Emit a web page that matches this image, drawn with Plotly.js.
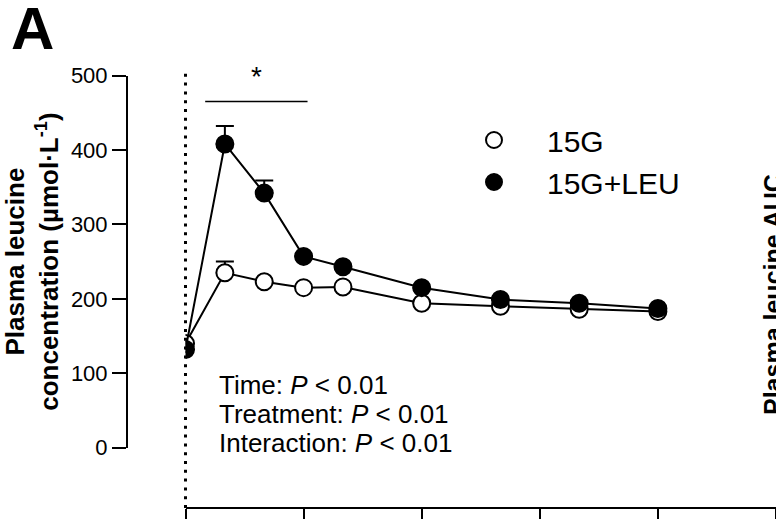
<!DOCTYPE html>
<html>
<head>
<meta charset="utf-8">
<script src="https://cdn.plot.ly/plotly-3.0.1.min.js"></script>
<style>html,body{margin:0;padding:0;background:#fff;overflow:hidden}</style>
</head>
<body>
<div id="chart" style="width:776px;height:519px"></div>
<script>
// Time after ingestion (min)
const timeMin = [0, 20, 40, 60, 80, 120, 160, 200, 240];
// Plasma leucine concentration (µmol·L-1)
const leu15G    = [140, 235, 223, 215, 216, 194, 190, 186, 183];
const leu15GLEU = [132, 408, 342, 257, 243, 215, 199, 194, 187];
// upward SEM bars (only the visible ones)
const sem15G    = [null, 15, null, null, null, null, null, null, null];
const sem15GLEU = [null, 24, 17, null, null, null, null, null, null];
const seriesNames = ['15G', '15G+LEU'];
const yTicks = [0, 100, 200, 300, 400, 500];
const xTicks = [0, 60, 120, 180, 240, 300];
const statLines = ['Time: <i>P</i> < 0.01', 'Treatment: <i>P</i> < 0.01', 'Interaction: <i>P</i> < 0.01'];
const sigSpan = [10, 62];
const sigLevel = 465;

const FONT = 'Liberation Sans, Arial, sans-serif';
const H = 519, T = 73, B = 11, L = 127, W = 776;
const ph = H - T - B, pw = W - L;
const py = p => (H - B - p) / ph;
const px = p => (p - L) / pw;

const lineStyle = {color: '#000', width: 2};
const traces = [
  {x: timeMin, y: leu15G, mode: 'lines', line: lineStyle, showlegend: false, hoverinfo: 'skip'},
  {x: timeMin, y: leu15G, mode: 'markers', name: seriesNames[0],
   marker: {symbol: 'circle', size: 17, color: '#fff', line: {color: '#000', width: 2}},
   error_y: {type: 'data', symmetric: false, array: sem15G, arrayminus: sem15G.map(v => v === null ? null : 0), color: '#000', thickness: 2, width: 9}},
  {x: timeMin, y: leu15GLEU, mode: 'lines', line: lineStyle, showlegend: false, hoverinfo: 'skip'},
  {x: timeMin, y: leu15GLEU, mode: 'markers', name: seriesNames[1],
   marker: {symbol: 'circle', size: 17, color: '#000', line: {color: '#000', width: 2}},
   error_y: {type: 'data', symmetric: false, array: sem15GLEU, arrayminus: sem15GLEU.map(v => v === null ? null : 0), color: '#000', thickness: 2, width: 9}}
];

const annotations = [
  {text: '<b>A</b>', xref: 'paper', yref: 'paper', x: px(32), y: py(29), xanchor: 'center', yanchor: 'middle', showarrow: false, font: {family: FONT, size: 60, color: '#000'}},
  {text: '*', xref: 'x', yref: 'paper', x: (sigSpan[0] + sigSpan[1]) / 2, y: py(76), xanchor: 'center', yanchor: 'middle', showarrow: false, font: {family: FONT, size: 28, color: '#000'}},
  {text: '<b>Plasma leucine AUC</b>', xref: 'paper', yref: 'paper', x: px(773), y: py(295), xanchor: 'center', yanchor: 'middle', textangle: -90, showarrow: false, font: {family: FONT, size: 25, color: '#000'}}
];
statLines.forEach((s, i) => annotations.push({
  text: s, xref: 'paper', yref: 'paper', x: px(217), y: py(385 + i * 29), xanchor: 'left', yanchor: 'middle',
  showarrow: false, font: {family: FONT, size: 26, color: '#000'}
}));

const layout = {
  width: W, height: H,
  margin: {l: L, r: 0, t: T, b: B, autoexpand: false},
  paper_bgcolor: '#fff', plot_bgcolor: '#fff',
  font: {family: FONT, color: '#000'},
  xaxis: {
    domain: [px(185.5), 1], range: [0, 300], tickvals: xTicks, showticklabels: false,
    showline: true, linecolor: '#000', linewidth: 2, ticks: 'outside', ticklen: 16, tickwidth: 2, tickcolor: '#000',
    showgrid: false, zeroline: false, anchor: 'free', position: 0, automargin: false
  },
  yaxis: {
    domain: [py(447.7), py(75.5)], range: [0, 500], tickvals: yTicks,
    showline: true, linecolor: '#000', linewidth: 2, ticks: 'outside', ticklen: 14, tickwidth: 2, tickcolor: '#000',
    tickfont: {family: FONT, size: 22, color: '#000'},
    showgrid: false, zeroline: false, anchor: 'free', position: 0, automargin: false,
    title: {text: '<b>Plasma leucine<br>concentration (µmol·L<sup>-1</sup>)</b>', font: {family: FONT, size: 26, color: '#000'}, standoff: 19}
  },
  showlegend: true,
  legend: {
    x: px(441), y: py(114), xanchor: 'left', yanchor: 'top', bgcolor: 'rgba(0,0,0,0)',
    font: {family: FONT, size: 30, color: '#000'}, itemwidth: 96, tracegroupgap: 0
  },
  shapes: [
    {type: 'line', xref: 'x domain', yref: 'paper', x0: 0, x1: 0, y0: 0, y1: 1, line: {color: '#000', width: 3, dash: '3px,5.8px'}},
    {type: 'line', xref: 'x', yref: 'y', x0: sigSpan[0], x1: sigSpan[1], y0: sigLevel, y1: sigLevel, line: {color: '#000', width: 1.5}}
  ],
  annotations: annotations
};

Plotly.newPlot('chart', traces, layout, {staticPlot: true, displayModeBar: false});
</script>
</body>
</html>
